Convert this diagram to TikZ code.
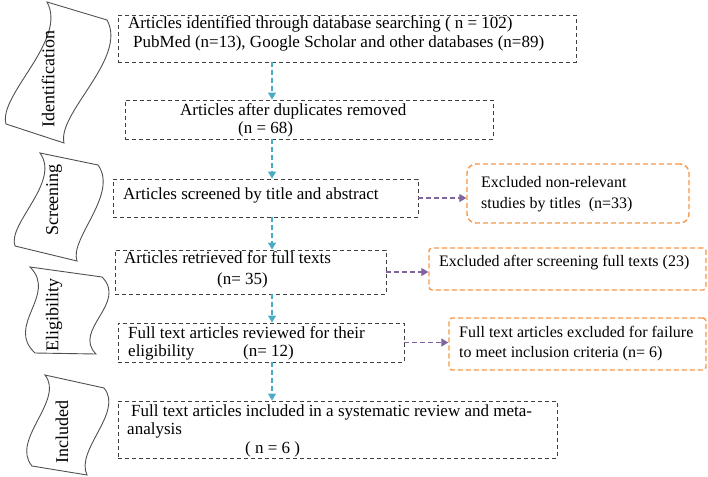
\documentclass[tikz,border=0pt]{standalone}
\usepackage{fontspec}
\setmainfont{Liberation Serif}
\usetikzlibrary{arrows.meta}
\definecolor{boxgray}{HTML}{3F3F3F}
\definecolor{bannergray}{HTML}{505050}
\definecolor{flowblue}{HTML}{4BACC6}
\definecolor{flowpurple}{HTML}{8064A2}
\definecolor{flowOrange}{HTML}{F79646}
\tikzset{
  dbox/.style={draw=boxgray, line width=0.9pt, dash pattern=on 4pt off 3pt, inner sep=0pt},
  obox/.style={draw=flowOrange, line width=1.4pt, dash pattern=on 5pt off 3pt, inner sep=0pt},
  txt/.style={anchor=base west, inner sep=0pt, font=\fontsize{17}{20}\selectfont},
  rtxt/.style={anchor=base west, inner sep=0pt, font=\fontsize{16}{20}\selectfont},
  bantxt/.style={rotate=90, inner sep=0pt, font=\fontsize{18}{20}\selectfont},
  banner/.style={draw=bannergray, line width=0.9pt},
  bluearr/.style={draw=flowblue, line width=1.2pt, dash pattern=on 5pt off 3pt, -{Triangle[width=8pt,length=7pt]}},
  purparr/.style={draw=flowpurple, line width=1.2pt, dash pattern=on 5pt off 3pt, -{Triangle[width=8pt,length=7pt]}}
}
\begin{document}
\begin{tikzpicture}[x=1pt, y=-1pt]
\useasboundingbox (0,0) rectangle (708,476);

% banners
\draw[banner] (47,2) -- (107,20) .. controls (128,58) and (57,113) .. (64,143)
  -- (6,124) .. controls (-2,95) and (68,40) .. (47,2) -- cycle;
\draw[banner] (40,153) -- (98,165) .. controls (119,194) and (69,239) .. (77,261)
  -- (15,246) .. controls (7,224) and (61,182) .. (40,153) -- cycle;
\draw[banner] (30,267) -- (102,277) .. controls (128,303) and (72,330) .. (96,354)
  -- (35,353) .. controls (5,325) and (58,295) .. (30,267) -- cycle;
\draw[banner] (45,375) -- (104,388) .. controls (124,412) and (75,450) .. (87,475)
  -- (32,466) .. controls (10,440) and (65,400) .. (45,375) -- cycle;

\node[bantxt] (lid) at (48,79) {Identification};
\node[bantxt] (lsc) at (54,200) {Screening};
\node[bantxt] (lel) at (54,315) {Eligibility};
\node[bantxt] (lin) at (62,432) {Included};

% main boxes
\node[dbox, minimum width=458pt, minimum height=47pt] (b1) at (347,38.5) {};
\node[dbox, minimum width=368pt, minimum height=39pt] (b2) at (309,119.5) {};
\node[dbox, minimum width=305pt, minimum height=38pt] (b3) at (265.5,198) {};
\node[dbox, minimum width=271pt, minimum height=44pt] (b4) at (250.5,272) {};
\node[dbox, minimum width=286pt, minimum height=39pt] (b5) at (261,342.5) {};
\node[dbox, minimum width=439pt, minimum height=57pt] (b6) at (337.5,429.5) {};

% exclusion boxes
\node[obox, rounded corners=9pt, minimum width=222pt, minimum height=59pt] (r1) at (578,193.5) {};
\node[obox, rounded corners=3pt, minimum width=277pt, minimum height=42pt] (r2) at (567.5,269) {};
\node[obox, rounded corners=3pt, minimum width=257pt, minimum height=52pt] (r3) at (577.5,344) {};

% texts
\node[txt] (t1a) at (128,29) {Articles identified through database searching ( n = 102)};
\node[txt] (t1b) at (133,48) {PubMed (n=13), Google Scholar and other databases (n=89)};
\node[txt] (t2a) at (180,115) {Articles after duplicates removed};
\node[txt] (t2b) at (238,133) {(n = 68)};
\node[txt] (t3a) at (123,199) {Articles screened by title and abstract};
\node[txt] (t4a) at (124,263) {Articles retrieved for full texts};
\node[txt] (t4b) at (217,284) {(n= 35)};
\node[txt] (t5a) at (128,338) {Full text articles reviewed for their};
\node[txt] (t5b) at (128,356) {eligibility};
\node[txt] (t5c) at (243,356) {(n= 12)};
\node[txt] (t6a) at (131,416) {Full text articles included in a systematic review and meta-};
\node[txt] (t6b) at (127,434) {analysis};
\node[txt] (t6c) at (245,453) {( n = 6 )};

\node[rtxt] (s1a) at (481,187) {Excluded non-relevant};
\node[rtxt] (s1b) at (481,208) {studies by titles\ \ (n=33)};
\node[rtxt] (s2a) at (439,266) {Excluded after screening full texts (23)};
\node[rtxt] (s3a) at (459,337) {Full text articles excluded for failure};
\node[rtxt] (s3b) at (459,357) {to meet inclusion criteria (n= 6)};

% connectors
\coordinate (ax) at (272,0);
\draw[bluearr] (b1.south -| ax) -- (b2.north -| ax);
\draw[bluearr] (b2.south -| ax) -- (b3.north -| ax);
\draw[bluearr] (b3.south -| ax) -- (b4.north -| ax);
\draw[bluearr] (b4.south -| ax) -- (b5.north -| ax);
\draw[bluearr] (b5.south -| ax) -- (b6.north -| ax);

\draw[purparr] (b3.east) -- (b3.east -| r1.west);
\draw[purparr] (b4.east) -- (b4.east -| r2.west);
\draw[purparr] (b5.east) -- (b5.east -| r3.west);
\end{tikzpicture}
\end{document}
